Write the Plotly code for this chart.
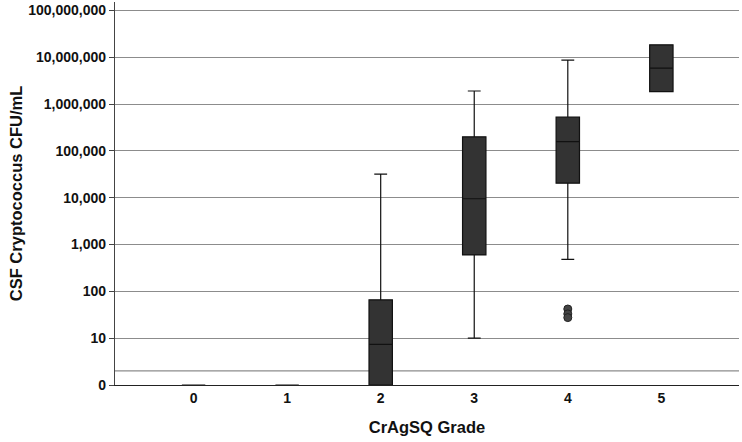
import plotly.graph_objects as go

grades = ["0", "1", "2", "3", "4", "5"]
q1 = [1, 1, 1, 600, 20400, 1850000]
median = [1, 1, 7.4, 9500, 157000, 5850000]
q3 = [1, 1, 66, 200000, 530000, 18400000]
lower_whisker = [1, 1, 1, 10, 480, 1850000]
upper_whisker = [1, 1, 32000, 1900000, 8700000, 18400000]
outlier_grade = ["4", "4", "4"]
outlier_values = [42, 33, 27.5]

tick_vals = [1, 10, 100, 1000, 10000, 100000, 1000000, 10000000, 100000000]
tick_text = ["0", "10", "100", "1,000", "10,000", "100,000", "1,000,000", "10,000,000", "100,000,000"]
extra_grid_value = 2

fig = go.Figure()
fig.add_trace(go.Box(
    x=grades, q1=q1, median=median, q3=q3,
    lowerfence=lower_whisker, upperfence=upper_whisker,
    fillcolor="#333333", line=dict(color="#111111", width=1.2),
    width=0.25, whiskerwidth=0.55, boxpoints=False, showlegend=False,
))
fig.add_trace(go.Scatter(
    x=outlier_grade, y=outlier_values, mode="markers",
    marker=dict(size=8, color="#444444", line=dict(color="#222222", width=1)),
    showlegend=False, cliponaxis=False,
))
fig.add_shape(type="line", xref="paper", x0=0, x1=1, yref="y",
              y0=extra_grid_value, y1=extra_grid_value,
              line=dict(color="#8c8c8c", width=1.3), layer="below")

fig.update_layout(
    width=742, height=442,
    margin=dict(l=115, r=3, t=2, b=57),
    plot_bgcolor="white", paper_bgcolor="white",
    font=dict(family="Liberation Sans, Arial, sans-serif", color="#111111"),
    xaxis=dict(
        type="category", range=[-0.84, 5.83], automargin=False,
        showgrid=False, showline=True, linecolor="#222222", linewidth=1.2,
        ticks="", tickfont=dict(size=14, weight="bold"),
        title=dict(text="<b>CrAgSQ Grade</b>", font=dict(size=16.5), standoff=16),
        zeroline=False,
    ),
    yaxis=dict(
        type="log", range=[0, 8.18], automargin=False,
        tickvals=tick_vals, ticktext=tick_text,
        showgrid=True, gridcolor="#8c8c8c", gridwidth=1.3,
        showline=True, linecolor="#444444", linewidth=1.2,
        ticks="outside", ticklen=5, tickcolor="#444444",
        tickfont=dict(size=14, weight="bold"),
        title=dict(text="<b>CSF Cryptococcus CFU/mL</b>", font=dict(size=16.5), standoff=1),
        zeroline=False,
    ),
)

fig.write_html(
    "out.html",
    config={"displayModeBar": False},
    post_script="document.body.style.margin='0';document.body.style.overflow='hidden';",
)
